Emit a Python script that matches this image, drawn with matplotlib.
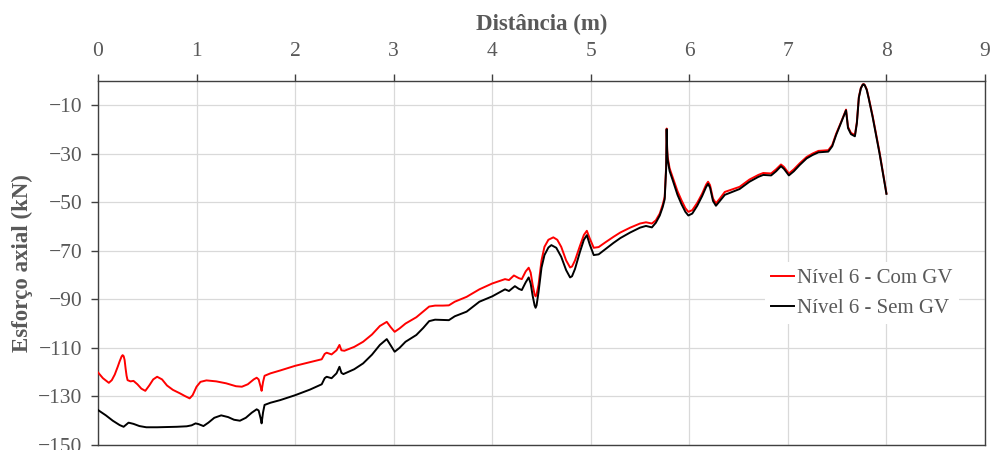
import matplotlib
matplotlib.use("Agg")
import matplotlib.pyplot as plt

plt.rcParams['font.family'] = ['Liberation Serif', 'DejaVu Serif']

# Axial force along the element, level 6, with and without GV
dist_com = [0.00, 0.05, 0.11, 0.14, 0.17, 0.20, 0.22, 0.24, 0.25, 0.26, 0.27, 0.28, 0.29, 0.30,
            0.33, 0.36, 0.40, 0.44, 0.48, 0.52, 0.56, 0.60, 0.65, 0.70, 0.76, 0.83, 0.88, 0.93,
            0.96, 1.00, 1.04, 1.10, 1.20, 1.30, 1.40, 1.46, 1.52, 1.58, 1.61, 1.63, 1.65, 1.66,
            1.675, 1.69, 1.75, 1.85, 2.00, 2.15, 2.27, 2.30, 2.32, 2.37, 2.42, 2.45, 2.47, 2.50,
            2.60, 2.69, 2.78, 2.86, 2.93, 2.97, 3.01, 3.06, 3.12, 3.23, 3.30, 3.36, 3.42, 3.50,
            3.56, 3.62, 3.74, 3.87, 4.00, 4.13, 4.17, 4.22, 4.27, 4.30, 4.34, 4.37, 4.39, 4.41,
            4.43, 4.44, 4.45, 4.47, 4.50, 4.53, 4.57, 4.62, 4.66, 4.70, 4.75, 4.79, 4.81, 4.84,
            4.89, 4.93, 4.96, 4.99, 5.03, 5.08, 5.15, 5.23, 5.30, 5.40, 5.50, 5.56, 5.62, 5.66,
            5.70, 5.73, 5.75, 5.765, 5.77, 5.775, 5.78, 5.80, 5.83, 5.88, 5.92, 5.96, 5.99, 6.03,
            6.08, 6.13, 6.17, 6.19, 6.21, 6.24, 6.27, 6.31, 6.36, 6.41, 6.51, 6.61, 6.70, 6.75,
            6.83, 6.88, 6.93, 6.96, 7.01, 7.06, 7.12, 7.19, 7.25, 7.31, 7.41, 7.45, 7.49, 7.54,
            7.59, 7.605, 7.61, 7.64, 7.68, 7.70, 7.72, 7.74, 7.76, 7.77, 7.78, 7.80, 7.82, 7.86,
            7.93, 8.00]
axial_com = [-120.1, -122.5, -124.4, -123.3, -121.0, -117.8, -115.5, -113.5, -113.0, -113.4, -115.0,
             -118.5, -121.5, -123.3, -123.8, -123.6, -125.0, -126.8, -127.7, -125.5, -123.0, -121.9,
             -123.0, -125.5, -127.3, -128.7, -129.8, -130.8, -129.5, -126.0, -124.0, -123.4, -123.8,
             -124.6, -125.8, -126.0, -125.0, -123.0, -122.3, -123.0, -126.0, -127.7, -124.0, -121.5,
             -120.5, -119.3, -117.4, -115.9, -114.7, -112.5, -112.0, -112.7, -111.0, -108.8, -111.0,
             -111.2, -109.6, -107.5, -104.5, -101.0, -99.3, -101.5, -103.4, -102.0, -100.0, -97.4,
             -95.0, -93.0, -92.6, -92.6, -92.5, -91.0, -89.0, -85.9, -83.5, -81.7, -82.1, -80.2,
             -81.3, -81.7, -78.5, -77.0, -79.0, -84.0, -88.0, -88.8, -88.0, -84.0, -74.0, -68.4,
             -65.5, -64.5, -65.5, -68.4, -74.0, -76.9, -76.5, -74.0, -68.0, -63.5, -61.8, -65.0,
             -68.8, -68.5, -66.5, -64.3, -62.5, -60.5, -58.8, -58.3, -58.8, -57.5, -54.7, -51.0,
             -47.8, -35.0, -19.7, -28.0, -31.4, -36.1, -39.6, -45.5, -49.2, -52.5, -54.0, -53.3,
             -50.3, -46.5, -42.8, -41.6, -43.0, -48.5, -50.5, -48.5, -45.8, -45.1, -43.7, -40.7,
             -38.8, -38.0, -38.2, -36.5, -34.5, -35.5, -38.2, -36.5, -34.0, -31.4, -30.0, -28.9,
             -28.6, -26.5, -21.8, -17.0, -11.9, -17.0, -19.0, -21.5, -22.4, -17.0, -6.7, -3.0,
             -1.5, -1.4, -1.8, -3.5, -7.0, -14.5, -29.5, -46.4]

dist_sem = [0.00, 0.08, 0.15, 0.22, 0.26, 0.29, 0.31, 0.36, 0.42, 0.49, 0.60, 0.70, 0.80, 0.90,
            0.95, 0.99, 1.02, 1.07, 1.12, 1.18, 1.25, 1.32, 1.38, 1.44, 1.50, 1.56, 1.61, 1.63,
            1.65, 1.66, 1.675, 1.69, 1.75, 1.85, 2.00, 2.15, 2.27, 2.30, 2.32, 2.37, 2.42, 2.45,
            2.47, 2.49, 2.60, 2.69, 2.78, 2.86, 2.93, 2.97, 3.01, 3.06, 3.12, 3.23, 3.30, 3.36,
            3.42, 3.50, 3.56, 3.62, 3.74, 3.87, 4.00, 4.13, 4.17, 4.23, 4.27, 4.30, 4.34, 4.37,
            4.39, 4.41, 4.43, 4.44, 4.45, 4.47, 4.50, 4.53, 4.57, 4.60, 4.65, 4.70, 4.75, 4.79,
            4.81, 4.84, 4.89, 4.93, 4.96, 4.99, 5.03, 5.08, 5.15, 5.23, 5.30, 5.40, 5.50, 5.56,
            5.62, 5.66, 5.70, 5.73, 5.75, 5.765, 5.77, 5.775, 5.78, 5.80, 5.83, 5.88, 5.92, 5.96,
            5.99, 6.03, 6.08, 6.13, 6.17, 6.19, 6.21, 6.24, 6.27, 6.31, 6.36, 6.41, 6.51, 6.61,
            6.70, 6.75, 6.83, 6.88, 6.93, 6.96, 7.01, 7.06, 7.12, 7.19, 7.25, 7.31, 7.41, 7.45,
            7.49, 7.54, 7.59, 7.605, 7.61, 7.64, 7.68, 7.70, 7.72, 7.74, 7.76, 7.77, 7.78, 7.80,
            7.82, 7.86, 7.93, 8.00]
axial_sem = [-135.6, -137.8, -140.0, -141.8, -142.5, -141.5, -140.8, -141.3, -142.2, -142.7, -142.7,
             -142.6, -142.5, -142.3, -141.9, -141.1, -141.4, -142.2, -140.8, -138.8, -137.8, -138.5,
             -139.6, -140.0, -138.8, -136.7, -135.3, -135.8, -139.0, -141.1, -136.5, -133.5, -132.6,
             -131.5, -129.5, -127.2, -125.0, -122.5, -121.9, -122.5, -120.5, -117.8, -120.3, -120.8,
             -118.8, -116.4, -112.8, -108.8, -106.4, -109.0, -111.6, -110.0, -107.5, -104.7, -101.8,
             -99.0, -98.4, -98.5, -98.6, -97.0, -95.1, -91.0, -88.8, -85.9, -86.6, -84.6, -85.7,
             -86.2, -83.0, -81.0, -83.5, -88.5, -92.5, -93.5, -92.5, -87.0, -77.0, -71.8, -68.7,
             -67.7, -68.8, -72.5, -78.0, -81.0, -80.5, -77.5, -70.5, -65.5, -63.6, -67.5, -71.8,
             -71.5, -69.3, -66.8, -64.8, -62.5, -60.5, -59.8, -60.4, -58.5, -55.5, -52.0, -48.8,
             -36.0, -20.0, -29.0, -32.5, -37.2, -40.8, -47.0, -50.8, -54.0, -55.5, -54.7, -51.5,
             -47.5, -43.8, -42.5, -44.0, -49.5, -51.5, -49.5, -47.0, -46.2, -44.6, -41.6, -39.6,
             -38.8, -39.0, -37.3, -35.2, -36.3, -39.0, -37.3, -34.7, -32.0, -30.6, -29.5, -29.2,
             -27.0, -22.3, -17.3, -12.2, -17.5, -19.5, -22.0, -22.9, -17.5, -7.0, -3.2, -1.6,
             -1.5, -1.9, -3.8, -7.3, -15.0, -30.0, -46.6]

series_labels = ["Nível 6 - Com GV", "Nível 6 - Sem GV"]
x_ticks = list(range(0, 10))
y_ticks = list(range(-150, 0, 20))

text_color = "#595959"
axis_color = "#404040"
grid_color = "#d9d9d9"

fig = plt.figure(figsize=(9.92, 4.5), dpi=100)
ax = fig.add_axes([98 / 992, 1 - 445 / 450, (985 - 98) / 992, (445 - 80.7) / 450])

ax.plot(dist_com, axial_com, color="#ff0000", lw=1.4, label=series_labels[0], zorder=3,
        solid_joinstyle="round")
ax.plot(dist_sem, axial_sem, color="#000000", lw=1.4, label=series_labels[1], zorder=4,
        solid_joinstyle="round")

ax.set_xlim(0, 9)
ax.set_ylim(-150, 0)
ax.set_xticks(x_ticks)
ax.set_yticks(y_ticks)

ax.xaxis.tick_top()
ax.xaxis.set_label_position("top")
ax.tick_params(axis="both", direction="out", length=5, width=1, color=axis_color,
               labelcolor=text_color, labelsize=15.5)
ax.tick_params(axis="x", pad=9)
ax.tick_params(axis="y", pad=6)

ax.grid(True, color=grid_color, lw=0.9)
ax.set_axisbelow(True)
for sp in ax.spines.values():
    sp.set_color(axis_color)
    sp.set_linewidth(1.0)

ax.set_xlabel("Distância (m)", fontsize=16.5, fontweight="bold", color=text_color, labelpad=9)
ax.set_ylabel("Esforço axial (kN)", fontsize=16.5, fontweight="bold", color=text_color, labelpad=4)

leg = ax.legend(loc="upper left", bbox_to_anchor=(765 / 992, 1 - 262 / 450),
                bbox_transform=fig.transFigure, borderaxespad=0, frameon=True,
                fancybox=False, edgecolor="none", facecolor="white", framealpha=1,
                fontsize=15, handlelength=1.1, handletextpad=0.15, borderpad=0.3,
                labelspacing=0.5)
for t in leg.get_texts():
    t.set_color(text_color)

fig.savefig("out.png", dpi=100)
